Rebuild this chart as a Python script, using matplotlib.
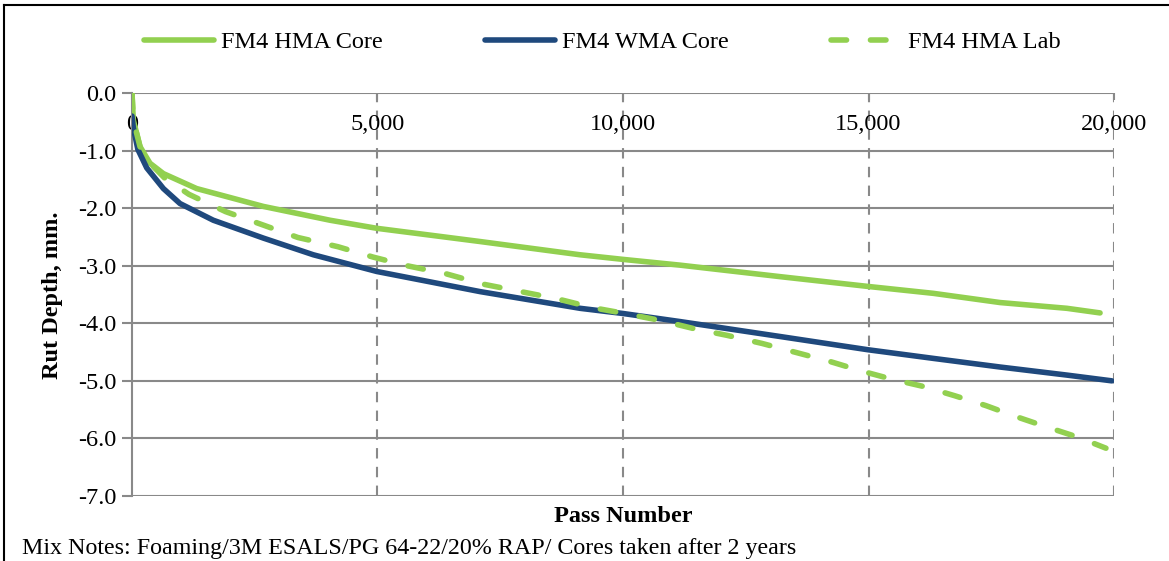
import matplotlib
matplotlib.use("Agg")
import matplotlib.pyplot as plt
from matplotlib.lines import Line2D

# ── data ───────────────────────────────────────────────────────
passes_hma_core = [0, 27, 163, 367, 640, 1317, 2675, 4033, 4984, 7090, 9125,
                   10000, 11160, 13200, 14990, 16320, 17680, 19040, 19715]
rut_hma_core = [0.0, -0.47, -0.93, -1.22, -1.40, -1.66, -1.97, -2.21, -2.35,
                -2.58, -2.81, -2.89, -2.99, -3.19, -3.36, -3.48, -3.64, -3.74,
                -3.82]

passes_wma_core = [0, 27, 120, 300, 640, 978, 1656, 2675, 3693, 4984, 7090,
                   9125, 10000, 11160, 13200, 14990, 16320, 17680, 19040,
                   19955]
rut_wma_core = [-0.40, -0.60, -0.98, -1.30, -1.66, -1.92, -2.21, -2.52, -2.81,
                -3.10, -3.45, -3.74, -3.83, -3.97, -4.23, -4.46, -4.61, -4.76,
                -4.90, -5.0]

passes_hma_lab = [0, 27, 163, 367, 670, 1160, 1905, 2660, 3380, 4195, 4910,
                  5600, 6395, 7150, 7860, 8635, 9390, 10100, 10755, 11430,
                  12120, 12830, 14200, 14860, 15470, 16130, 16760, 17390,
                  18000, 18660, 19270, 19835]
rut_hma_lab = [0.0, -0.47, -0.93, -1.22, -1.48, -1.76, -2.06, -2.29, -2.51,
               -2.67, -2.85, -3.0, -3.14, -3.32, -3.44, -3.57, -3.73, -3.84,
               -3.95, -4.09, -4.21, -4.35, -4.66, -4.83, -4.97, -5.10, -5.26,
               -5.43, -5.62, -5.81, -5.98, -6.17]

x_ticks = [0, 5000, 10000, 15000, 20000]
x_ticklabels = ["0", "5,000", "10,000", "15,000", "20,000"]
y_ticks = [0, -1, -2, -3, -4, -5, -6, -7]

GREEN = "#92D050"
BLUE = "#1F497D"
GRID = "#898989"
FS = 17.5
LW = 4.0

plt.rcParams["font.family"] = ["Liberation Serif", "DejaVu Serif"]

fig = plt.figure(figsize=(11.69, 5.61), dpi=100)
ax = fig.add_axes([0.1129, 0.1159, 0.8401, 0.7183])

ax.plot(passes_hma_core, rut_hma_core, color=GREEN, lw=LW,
        solid_capstyle="round", solid_joinstyle="round", label="FM4 HMA Core",
        zorder=3)
ax.plot(passes_wma_core, rut_wma_core, color=BLUE, lw=LW,
        solid_capstyle="round", solid_joinstyle="round", label="FM4 WMA Core",
        zorder=4)
ax.plot(passes_hma_lab, rut_hma_lab, color=GREEN, lw=LW,
        linestyle=(0, (2.8, 4.3)), dash_capstyle="round",
        label="FM4 HMA Lab", zorder=5)

ax.set_xlim(0, 20000)
ax.set_ylim(-7, 0)

# horizontal solid grid, vertical dashed grid
for y in y_ticks:
    ax.axhline(y, color=GRID, lw=1.5, zorder=1)
for x in x_ticks[1:]:
    ax.axvline(x, color=GRID, lw=1.5, linestyle=(0, (5, 4)), zorder=1)

for side in ["top", "right", "bottom"]:
    ax.spines[side].set_visible(False)
ax.spines["left"].set_color(GRID)
ax.spines["left"].set_linewidth(1.5)

ax.set_yticks(y_ticks)
ax.set_yticklabels([f"{v:.1f}" for v in y_ticks], fontsize=FS)
ax.tick_params(axis="y", direction="out", length=7, width=1.5, color=GRID,
               pad=4)

ax.set_xticks(x_ticks)
ax.set_xticklabels(x_ticklabels, fontsize=FS)
ax.tick_params(axis="x", top=True, bottom=False, labeltop=True,
               labelbottom=False, direction="in", length=5, width=1.5,
               color=GRID, pad=-15)
for lbl in ax.get_xticklabels():
    lbl.set_verticalalignment("top")

fig.text(0.0445, 0.473, "Rut Depth, mm.", rotation=90, ha="center",
         va="center", fontsize=FS, fontweight="bold")
fig.text(0.5334, 0.079, "Pass Number", ha="center", va="center",
         fontsize=FS, fontweight="bold")
fig.text(0.019, 0.023, "Mix Notes: Foaming/3M ESALS/PG 64-22/20% RAP/ Cores taken after 2 years",
         ha="left", va="center", fontsize=17.3)

fig.legend(loc="center", bbox_to_anchor=(0.5154, 0.925), ncol=3,
           frameon=False, fontsize=FS, handlelength=2.88, handletextpad=0.3,
           columnspacing=4.2)

# outer chart border (top and left visible)
fig.add_artist(Line2D([0.0035, 1.0], [0.991, 0.991], color="black", lw=1.5,
                      transform=fig.transFigure))
fig.add_artist(Line2D([0.0035, 0.0035], [0.0, 0.991], color="black", lw=1.5,
                      transform=fig.transFigure))

fig.savefig("out.png", dpi=100)
